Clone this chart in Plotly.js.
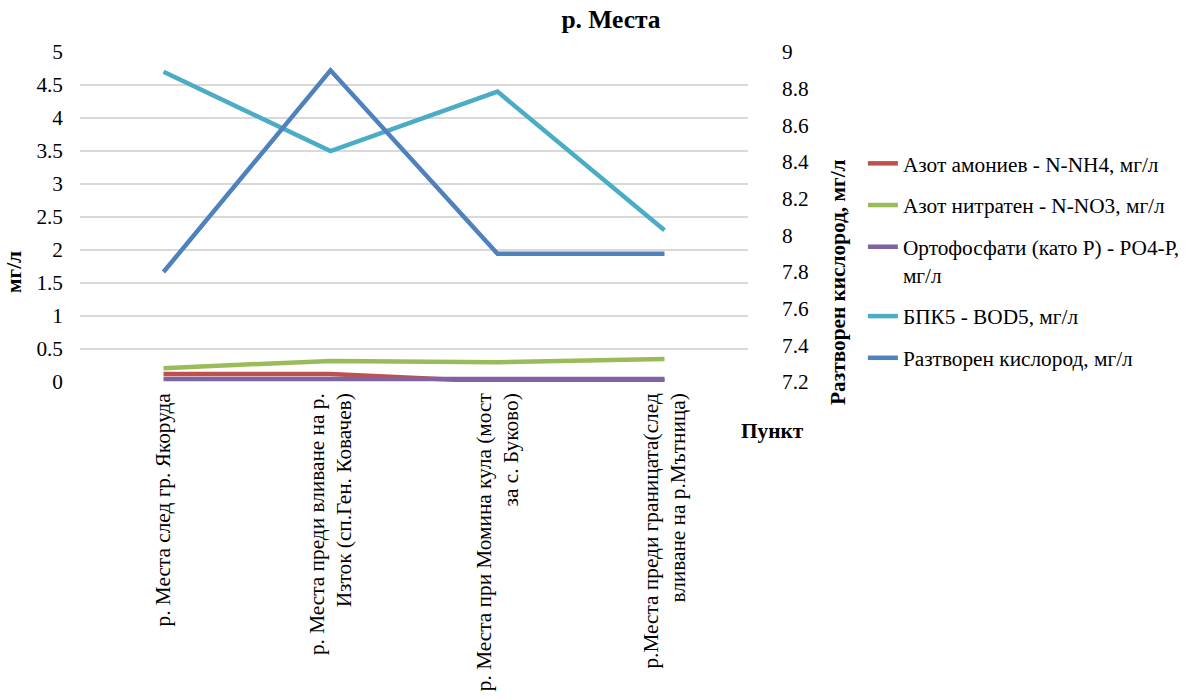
<!DOCTYPE html>
<html>
<head>
<meta charset="utf-8">
<script src="https://cdn.plot.ly/plotly-3.0.1.min.js"></script>
<style>html,body{margin:0;padding:0;background:#fff;}#chart{width:1199px;height:700px;}</style>
</head>
<body>
<div id="chart"></div>
<script>
const categories = [
  "р. Места след гр. Якоруда",
  "р. Места преди вливане на р.<br>Изток (сп.Ген. Ковачев)",
  "р. Места при Момина кула (мост<br>за с. Буково)",
  "р.Места преди границата(след<br>вливане на р.Мътница)"
];
const seriesNames = [
  "Азот амониев - N-NH4, мг/л",
  "Азот нитратен - N-NO3, мг/л",
  "Ортофосфати (като Р) - РО4-Р,<br>мг/л",
  "БПК5 - BOD5, мг/л",
  "Разтворен кислород, мг/л"
];
const ammonium = [0.12, 0.12, 0.005, 0.03];
const nitrate = [0.21, 0.32, 0.30, 0.35];
const phosphate = [0.045, 0.045, 0.045, 0.045];
const bod5 = [4.7, 3.5, 4.4, 2.3];
const oxygen = [7.8, 8.9, 7.9, 7.9];

const colors = ["#C0504D", "#9BBB59", "#8064A2", "#4BACC6", "#4F81BD"];
const values = [ammonium, nitrate, phosphate, bod5, oxygen];
const axes = ["y", "y", "y", "y", "y2"];

const FONT = "Liberation Serif";
const FS = 21.3;

const traces = values.map((v, i) => ({
  type: "scatter",
  mode: "lines",
  x: categories,
  y: v,
  yaxis: axes[i],
  name: seriesNames[i],
  legendgroup: "g" + i,
  line: {color: colors[i], width: 4.5},
  hoverinfo: "y"
}));

const layout = {
  width: 1199,
  height: 700,
  paper_bgcolor: "#fff",
  plot_bgcolor: "#fff",
  font: {family: FONT, size: FS, color: "#000"},
  margin: {l: 80, r: 451, t: 52, b: 318},
  title: {
    text: "<b>р. Места</b>",
    font: {family: FONT, size: 25.5, color: "#000"},
    x: 611 / 1199, xanchor: "center",
    y: 1 - 19 / 700, yanchor: "middle"
  },
  showlegend: true,
  legend: {
    x: 1.172, xanchor: "left",
    y: 1 - (143 - 52) / 330, yanchor: "top",
    font: {family: FONT, size: FS, color: "#000"},
    traceorder: "grouped",
    tracegroupgap: 11,
    valign: "top",
    bgcolor: "rgba(0,0,0,0)"
  },
  xaxis: {
    type: "category",
    range: [-0.5, 3.5],
    tickangle: -90,
    showgrid: false,
    zeroline: false,
    showline: false,
    ticks: "",
    tickfont: {family: FONT, size: FS, color: "#000"},
    ticklabelstandoff: 6
  },
  yaxis: {
    range: [0, 5],
    dtick: 0.5,
    tick0: 0,
    showgrid: true,
    gridcolor: "#d9d9d9",
    gridwidth: 1.5,
    zeroline: false,
    showline: false,
    ticks: "",
    tickfont: {family: FONT, size: FS, color: "#000"},
    ticklabelstandoff: 16
  },
  yaxis2: {
    overlaying: "y",
    side: "right",
    range: [7.2, 9],
    dtick: 0.2,
    tick0: 7.2,
    showgrid: false,
    zeroline: false,
    showline: false,
    ticks: "",
    tickformat: ".1~f",
    tickfont: {family: FONT, size: FS, color: "#000"},
    ticklabelstandoff: 33
  },
  annotations: [
    {
      text: "<b>мг/л</b>", xref: "paper", yref: "paper",
      x: (14 - 80) / 668, y: (382 - 272) / 330,
      xanchor: "center", yanchor: "middle", textangle: -90, showarrow: false,
      font: {family: FONT, size: FS, color: "#000"}
    },
    {
      text: "<b>Разтворен кислород, мг/л</b>", xref: "paper", yref: "paper",
      x: (838 - 80) / 668, y: (382 - 282) / 330,
      xanchor: "center", yanchor: "middle", textangle: -90, showarrow: false,
      font: {family: FONT, size: FS, color: "#000"}
    },
    {
      text: "<b>Пункт</b>", xref: "paper", yref: "paper",
      x: (772 - 80) / 668, y: (382 - 431) / 330,
      xanchor: "center", yanchor: "middle", showarrow: false,
      font: {family: FONT, size: FS, color: "#000"}
    }
  ]
};

Plotly.newPlot("chart", traces, layout, {displayModeBar: false, staticPlot: true});
</script>
</body>
</html>
